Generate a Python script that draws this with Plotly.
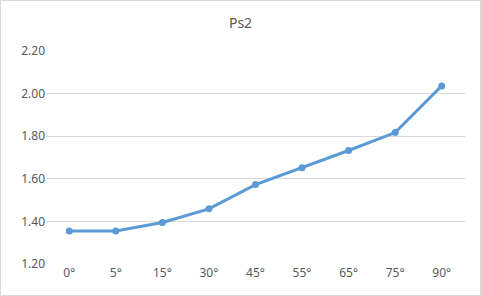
import plotly.graph_objects as go

categories = ["0°", "5°", "15°", "30°", "45°", "55°", "65°", "75°", "90°"]
values = [1.355, 1.355, 1.395, 1.459, 1.573, 1.652, 1.733, 1.817, 2.036]
y_ticks = [1.20, 1.40, 1.60, 1.80, 2.00, 2.20]
title = "Ps2"

W, H = 481, 296
L, R, T, B = 46, 16, 51, 32
pw, ph = W - L - R, H - T - B

fig = go.Figure()
fig.add_trace(go.Scatter(
    x=categories, y=values, mode="lines+markers",
    line=dict(color="#5B9BD5", width=3),
    marker=dict(color="#5B9BD5", size=7),
    showlegend=False,
))

font = "Noto Sans, DejaVu Sans, sans-serif"
fig.update_layout(
    width=W, height=H,
    margin=dict(l=L, r=R, t=T, b=B),
    paper_bgcolor="white", plot_bgcolor="white",
    title=dict(text=title, x=0.5, xanchor="center", y=1 - 23 / H, yanchor="middle",
               font=dict(family=font, size=14, color="#595959")),
    font=dict(family=font, size=12, color="#595959"),
    xaxis=dict(type="category", range=[-0.5, len(categories) - 0.5],
               showgrid=False, zeroline=False, showline=False, ticks="",
               tickfont=dict(size=12, color="#595959")),
    yaxis=dict(range=[y_ticks[0], y_ticks[-1]], tickvals=y_ticks,
               ticktext=[f"{v:.2f}" for v in y_ticks],
               showgrid=True, gridcolor="#D9D9D9", gridwidth=1,
               zeroline=False, showline=False, ticks="",
               tickfont=dict(size=12, color="#595959")),
    shapes=[dict(type="rect", xref="paper", yref="paper",
                 x0=(-L + 0.5) / pw, x1=(pw + R - 0.5) / pw,
                 y0=(-B + 0.5) / ph, y1=(ph + T - 0.5) / ph,
                 line=dict(color="#D9D9D9", width=1), layer="below")],
)
fig.write_html("out.html")
